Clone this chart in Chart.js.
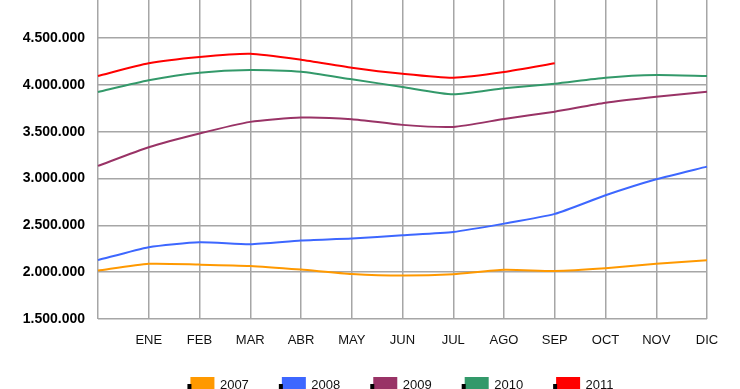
<!DOCTYPE html>
<html>
<head>
<meta charset="utf-8">
<script src="https://cdn.jsdelivr.net/npm/chart.js@4.4.1/dist/chart.umd.min.js"></script>
<style>
  html, body { margin: 0; padding: 0; background: #fff; overflow: hidden; width: 740px; height: 389px; }
  #wrap { position: absolute; left: 0; top: -30px; }
</style>
</head>
<body>
<div id="wrap"><canvas id="myChart" width="740" height="432"></canvas></div>
<script>
// months (first slot is the unlabeled start point)
var months = ["", "ENE", "FEB", "MAR", "ABR", "MAY", "JUN", "JUL", "AGO", "SEP", "OCT", "NOV", "DIC"];
var years = ["2007", "2008", "2009", "2010", "2011"];

var v2007 = [2017000, 2089000, 2081000, 2067000, 2028000, 1982000, 1964000, 1979000, 2025000, 2014000, 2043000, 2089000, 2128000];
var v2008 = [2129000, 2267000, 2320000, 2299000, 2338000, 2359000, 2395000, 2430000, 2519000, 2623000, 2822000, 2993000, 3128000];
var v2009 = [3136000, 3335000, 3482000, 3606000, 3652000, 3635000, 3574000, 3552000, 3637000, 3715000, 3810000, 3874000, 3928000];
var v2010 = [3925000, 4050000, 4131000, 4160000, 4142000, 4061000, 3979000, 3900000, 3965000, 4014000, 4078000, 4107000, 4096000];
var v2011 = [4096000, 4232000, 4299000, 4334000, 4270000, 4185000, 4120000, 4078000, 4139000, 4232000, null, null, null];

var yTicks = [1500000, 2000000, 2500000, 3000000, 3500000, 4000000, 4500000, 5000000];

var colors = ["#ff9900", "#3d67ff", "#993366", "#33996a", "#ff0000"];
var series = [v2007, v2008, v2009, v2010, v2011];

function fmt(n) {
  return String(n).replace(/\B(?=(\d{3})+(?!\d))/g, ".");
}

// little black marks to the left of each legend box
var legendShadow = {
  id: "legendShadow",
  afterDraw: function (chart) {
    var lg = chart.legend;
    if (!lg || !lg.legendHitBoxes) return;
    var c = chart.ctx;
    c.save();
    c.fillStyle = "#000";
    lg.legendHitBoxes.forEach(function (h) {
      c.fillRect(h.left - 4, h.top + 6, 4, 14);
    });
    c.restore();
  }
};

var ctx = document.getElementById("myChart").getContext("2d");
var chart = new Chart(ctx, {
  type: "line",
  data: {
    labels: months,
    datasets: years.map(function (y, i) {
      return {
        label: y,
        data: series[i],
        borderColor: colors[i],
        backgroundColor: colors[i],
        borderWidth: 2,
        pointRadius: 0,
        tension: 0.2,
        fill: false,
        spanGaps: false
      };
    })
  },
  options: {
    responsive: false,
    animation: false,
    devicePixelRatio: 1,
    layout: { padding: { right: 33, left: 0, top: 0, bottom: 0 } },
    plugins: {
      tooltip: { enabled: false },
      legend: {
        position: "bottom",
        fullSize: false,
        labels: {
          boxWidth: 22,
          boxHeight: 14,
          padding: 34,
          color: "#111",
          font: { family: "Liberation Sans, Arial, sans-serif", size: 13 }
        }
      }
    },
    scales: {
      x: {
        offset: false,
        grid: { color: "#a6a6a6", lineWidth: 1.5, drawTicks: false },
        border: { display: false },
        ticks: {
          padding: 14,
          color: "#111",
          maxRotation: 0,
          autoSkip: false,
          font: { family: "Liberation Sans, Arial, sans-serif", size: 13 }
        },
        afterFit: function (s) { s.height = 25; }
      },
      y: {
        min: 1500000,
        max: 5000000,
        grid: { color: "#a6a6a6", lineWidth: 1.5, drawTicks: false },
        border: { display: false },
        afterBuildTicks: function (s) {
          s.ticks = yTicks.map(function (v) { return { value: v }; });
        },
        ticks: {
          padding: 13,
          color: "#000",
          font: { family: "Liberation Sans, Arial, sans-serif", size: 14, weight: "bold" },
          callback: function (v) { return fmt(v); }
        },
        afterFit: function (s) { s.width = 98; }
      }
    }
  },
  plugins: [legendShadow]
});
</script>
</body>
</html>
